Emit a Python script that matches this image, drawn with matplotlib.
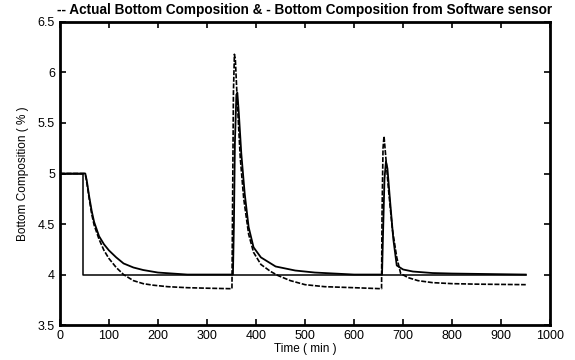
import matplotlib
matplotlib.use("Agg")
import matplotlib.pyplot as plt

plt.rcParams['font.family'] = ['Liberation Sans', 'DejaVu Sans']

# setpoint step
step_t = [0, 48, 48, 950]
step_y = [5.0, 5.0, 4.0, 4.0]

# actual bottom composition (dashed)
actual_t = [0, 50, 53, 56, 60, 65, 70, 80, 90, 100, 115, 130, 150, 170, 190, 220, 260, 300, 350,
            351, 352, 354, 356, 358, 362, 368, 375, 385, 395, 410, 430, 445, 470, 500, 540, 600, 655,
            656, 657, 659, 661, 664, 670, 678, 687, 695, 710, 730, 760, 800, 850, 950]
actual_y = [5.0, 5.0, 4.97, 4.88, 4.75, 4.6, 4.49, 4.35, 4.24, 4.16, 4.07, 4.0, 3.94, 3.91, 3.895, 3.88, 3.87, 3.865, 3.86,
            3.86, 4.5, 5.8, 6.18, 6.12, 5.7, 5.15, 4.75, 4.4, 4.22, 4.1, 4.03, 3.99, 3.94, 3.9, 3.88, 3.87, 3.86,
            3.86, 4.6, 5.25, 5.37, 5.2, 4.85, 4.45, 4.17, 4.01, 3.97, 3.94, 3.92, 3.91, 3.905, 3.90]

# bottom composition from software sensor (solid)
sensor_t = [0, 52, 55, 60, 65, 70, 80, 90, 100, 115, 130, 150, 170, 200, 230, 260, 353,
            355, 357, 360, 362, 365, 370, 377, 385, 395, 410, 440, 480, 520, 600, 657,
            659, 662, 665, 668, 673, 680, 687, 700, 720, 760, 800, 950]
sensor_y = [5.0, 5.0, 4.93, 4.77, 4.63, 4.52, 4.38, 4.3, 4.24, 4.17, 4.11, 4.07, 4.045, 4.02, 4.01, 4.0, 4.0,
            4.5, 5.3, 5.78, 5.8, 5.6, 5.2, 4.8, 4.47, 4.27, 4.17, 4.08, 4.04, 4.02, 4.0, 4.0,
            4.4, 4.95, 5.12, 5.05, 4.75, 4.35, 4.09, 4.05, 4.03, 4.015, 4.01, 4.0]

fig = plt.figure(figsize=(5.75, 3.6), dpi=100)
ax = fig.add_axes([0.104, 0.097, 0.853, 0.842])

ax.plot(step_t, step_y, color="black", lw=1.1)
ax.plot(actual_t, actual_y, color="black", lw=1.2, ls=(0, (3, 1)))
ax.plot(sensor_t, sensor_y, color="black", lw=1.3)

ax.set_xlim(0, 1000)
ax.set_ylim(3.5, 6.5)
ax.set_xticks(range(0, 1001, 100))
ax.set_yticks([3.5, 4, 4.5, 5, 5.5, 6, 6.5])
ax.set_yticklabels(["3.5", "4", "4.5", "5", "5.5", "6", "6.5"])
ax.tick_params(direction="in", top=True, right=True, length=4, width=1.2, labelsize=9)
for s in ax.spines.values():
    s.set_linewidth(2)

ax.set_xlabel("Time ( min )", fontsize=8.5, labelpad=1)
ax.set_ylabel("Bottom Composition ( % )", fontsize=8.5, labelpad=6)
ax.set_title("-- Actual Bottom Composition & - Bottom Composition from Software sensor",
             fontsize=9.8, fontweight="bold", pad=6, x=0.5)

fig.savefig("out.png", dpi=100)
